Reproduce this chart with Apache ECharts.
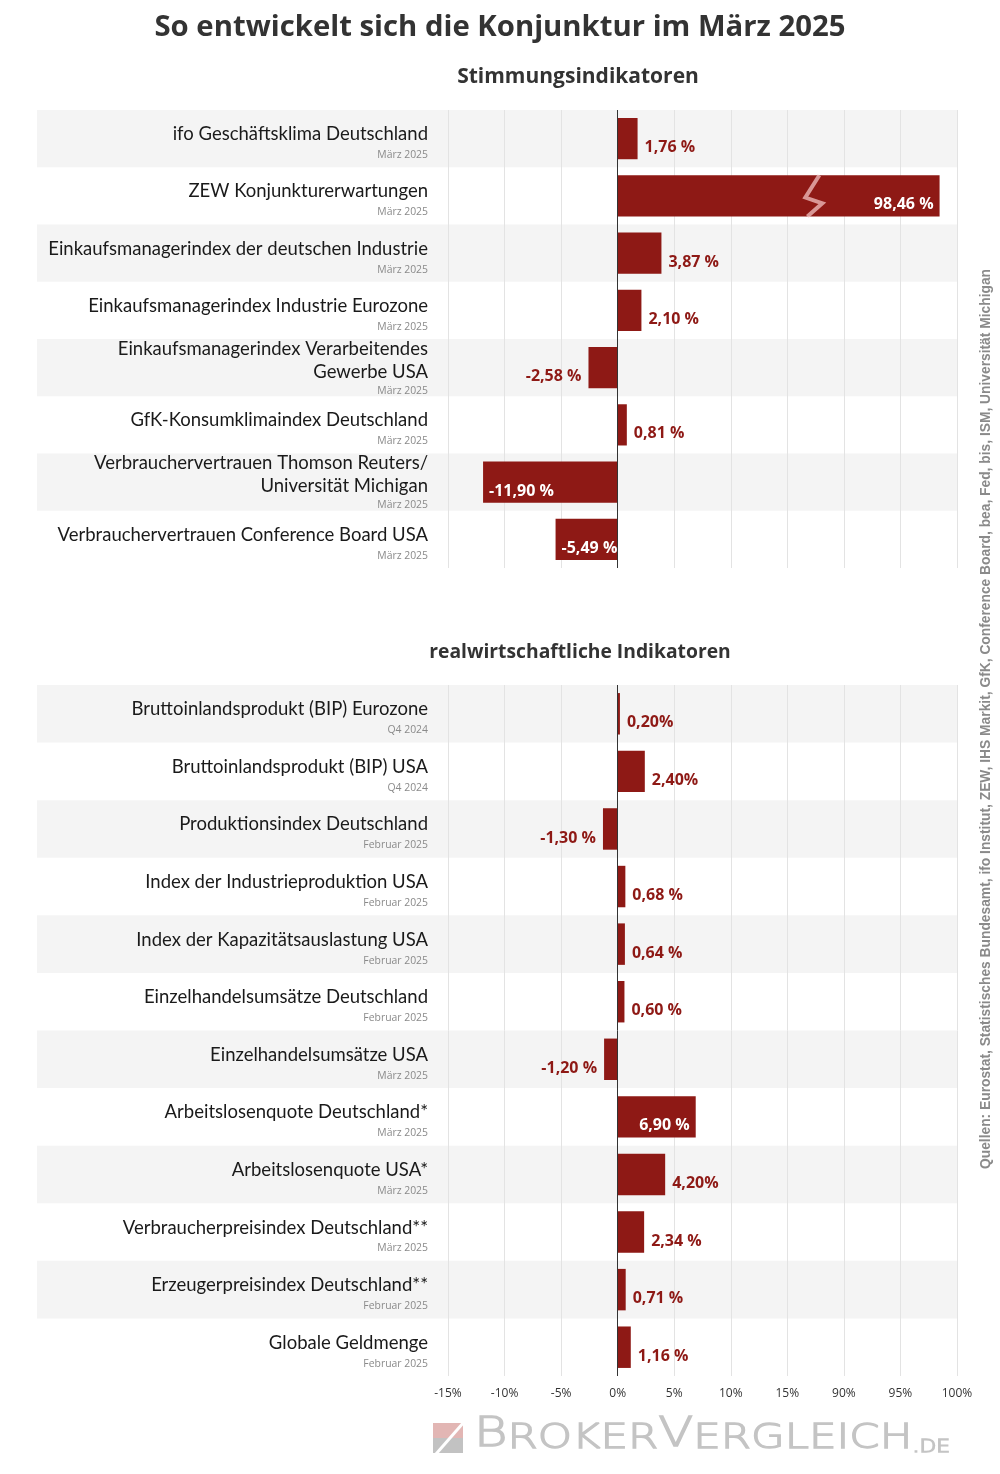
<!DOCTYPE html>
<html><head><meta charset="utf-8">
<script src="https://cdn.jsdelivr.net/npm/echarts@6/dist/echarts.min.js"></script>
<style>html,body{margin:0;padding:0;background:#fff}#c{width:1000px;height:1474px}</style>
</head><body><div id="c"></div>
<script>
// ---------- data ----------
const topCategories = [
  'ifo Geschäftsklima Deutschland',
  'ZEW Konjunkturerwartungen',
  'Einkaufsmanagerindex der deutschen Industrie',
  'Einkaufsmanagerindex Industrie Eurozone',
  'Einkaufsmanagerindex Verarbeitendes\nGewerbe USA',
  'GfK-Konsumklimaindex Deutschland',
  'Verbrauchervertrauen Thomson Reuters/\nUniversität Michigan',
  'Verbrauchervertrauen Conference Board USA'
];
const topDates = ['März 2025','März 2025','März 2025','März 2025','März 2025','März 2025','März 2025','März 2025'];
const topValues = [1.76, 98.46, 3.87, 2.10, -2.58, 0.81, -11.90, -5.49];
const topLabels = ['1,76 %','98,46 %','3,87 %','2,10 %','-2,58 %','0,81 %','-11,90 %','-5,49 %'];

const bottomCategories = [
  'Bruttoinlandsprodukt (BIP) Eurozone',
  'Bruttoinlandsprodukt (BIP) USA',
  'Produktionsindex Deutschland',
  'Index der Industrieproduktion USA',
  'Index der Kapazitätsauslastung USA',
  'Einzelhandelsumsätze Deutschland',
  'Einzelhandelsumsätze USA',
  'Arbeitslosenquote Deutschland*',
  'Arbeitslosenquote USA*',
  'Verbraucherpreisindex Deutschland**',
  'Erzeugerpreisindex Deutschland**',
  'Globale Geldmenge'
];
const bottomDates = ['Q4 2024','Q4 2024','Februar 2025','Februar 2025','Februar 2025','Februar 2025','März 2025','März 2025','März 2025','März 2025','Februar 2025','Februar 2025'];
const bottomValues = [0.20, 2.40, -1.30, 0.68, 0.64, 0.60, -1.20, 6.90, 4.20, 2.34, 0.71, 1.16];
const bottomLabels = ['0,20%','2,40%','-1,30 %','0,68 %','0,64 %','0,60 %','-1,20 %','6,90 %','4,20%','2,34 %','0,71 %','1,16 %'];

// axis: -15 ... 15 | break | 90 ... 100
const axisTicks = [-15, -10, -5, 0, 5, 10, 15, 90, 95, 100];
const breakStart = 15, breakEnd = 90, breakGap = 5;
const sourceText = 'Quellen: Eurostat, Statistisches Bundesamt, ifo Institut, ZEW, IHS Markit, GfK, Conference Board, bea, Fed, bis, ISM, Universität Michigan';

// ---------- helpers ----------
const BAR = '#8e1915';
const toAxis = v => v > breakStart ? v - (breakEnd - breakStart - breakGap) : v;
const fromAxis = p => p > breakStart ? p + (breakEnd - breakStart - breakGap) : p;
const axisMin = toAxis(axisTicks[0]);
const axisMax = toAxis(axisTicks[axisTicks.length - 1]);
const breakPos = breakStart + 2.3;

function catFormatter(dates) {
  return function (value, idx) {
    const lines = value.split('\n');
    if (lines.length === 1) return '{n1|' + lines[0] + '}\n{d1|' + dates[idx] + '}';
    return lines.map(l => '{n|' + l + '}').join('\n') + '\n{d|' + dates[idx] + '}';
  };
}
const richCat = {
  n1: { fontFamily: 'Lato', fontSize: 18.5, lineHeight: 33, color: '#1a1a1a', align: 'right' },
  n: { fontFamily: 'Lato', fontSize: 18.5, lineHeight: 23, color: '#1a1a1a', align: 'right' },
  d1: { fontFamily: 'Open Sans', fontSize: 10.4, lineHeight: 9, color: '#8a8a8a', align: 'right' },
  d: { fontFamily: 'Open Sans', fontSize: 10.4, lineHeight: 15, color: '#8a8a8a', align: 'right' }
};

function barData(values, labels) {
  return values.map((v, i) => {
    const p = toAxis(v);
    const inside = Math.abs(p) >= 5;
    return {
      value: p,
      label: {
        show: true,
        position: inside ? (p > 0 ? 'insideRight' : 'insideLeft') : (p >= 0 ? 'right' : 'left'),
        distance: inside ? 6 : 7,
        offset: [0, 9],
        color: inside ? '#fff' : BAR,
        fontFamily: 'Open Sans', fontWeight: 'bold', fontSize: 16,
        formatter: () => labels[i]
      }
    };
  });
}

function bandSeries(n, gi) {
  return {
    type: 'custom', xAxisIndex: gi, yAxisIndex: gi, z: -1, silent: true,
    data: Array.from({ length: n }, (_, i) => [0, i]),
    renderItem: (params, api) => {
      const i = api.value(1);
      if (i % 2 === 1) return null;
      const c = api.coord([0, i]);
      const h = api.size([0, 1])[1];
      return { type: 'rect', shape: { x: 37, y: c[1] - h / 2, width: 920, height: h }, style: { fill: '#f4f4f4' } };
    }
  };
}

function zigzagSeries(values, gi) {
  const d = [];
  values.forEach((v, i) => { if (v > breakStart) d.push([breakPos, i]); });
  return {
    type: 'custom', xAxisIndex: gi, yAxisIndex: gi, z: 5, silent: true, data: d,
    renderItem: (params, api) => {
      const c = api.coord([api.value(0), api.value(1)]);
      const bh = api.size([0, 1])[1] * 0.72;
      const t = c[1] - bh / 2;
      return {
        type: 'polyline',
        shape: { points: [[c[0] + 6, t], [c[0] - 8, t + bh * 0.54], [c[0] + 9, t + bh * 0.68], [c[0] - 6, t + bh]] },
        style: { stroke: 'rgba(250,205,205,0.7)', lineWidth: 4, fill: null }
      };
    }
  };
}

function xAxisCfg(gi, showLabels) {
  return {
    type: 'value', gridIndex: gi, min: axisMin, max: axisMax, interval: 5,
    axisLine: { show: false }, axisTick: { show: false },
    splitLine: { show: true, lineStyle: { color: '#e3e3e3', width: 1 } },
    axisLabel: {
      show: showLabels, margin: 12, color: '#333', fontFamily: 'Open Sans', fontSize: 12,
      formatter: v => fromAxis(v) + '%'
    }
  };
}
function yAxisCfg(gi, cats, dates) {
  return {
    type: 'category', gridIndex: gi, data: cats, inverse: true,
    axisLine: { show: false }, axisTick: { show: false }, splitLine: { show: false },
    axisLabel: { margin: 20, formatter: catFormatter(dates), rich: richCat }
  };
}
function barSeries(values, labels, gi) {
  return {
    type: 'bar', xAxisIndex: gi, yAxisIndex: gi, barWidth: '72%', z: 2,
    itemStyle: { color: BAR },
    data: barData(values, labels),
    markLine: {
      silent: true, symbol: 'none', label: { show: false },
      lineStyle: { color: '#333', type: 'solid', width: 1 },
      data: [{ xAxis: 0 }]
    }
  };
}

const LOGO = '#c4c4c4';
const logoTok = size => ({ fontFamily: 'DejaVu Sans', fontWeight: 200, fontSize: size, fill: LOGO, color: LOGO, stroke: LOGO, lineWidth: 1.3, verticalAlign: 'bottom' });
const chart = echarts.init(document.getElementById('c'));
chart.setOption({
  animation: false,
  backgroundColor: '#fff',
  grid: [
    { left: 448, right: 43, top: 110, height: 458 },
    { left: 448, right: 43, top: 685, height: 691 }
  ],
  xAxis: [xAxisCfg(0, false), xAxisCfg(1, true)],
  yAxis: [yAxisCfg(0, topCategories, topDates), yAxisCfg(1, bottomCategories, bottomDates)],
  series: [
    bandSeries(topCategories.length, 0),
    bandSeries(bottomCategories.length, 1),
    barSeries(topValues, topLabels, 0),
    barSeries(bottomValues, bottomLabels, 1),
    zigzagSeries(topValues, 0)
  ],
  graphic: [
    { type: 'text', x: 500, y: 28, style: { text: 'So entwickelt sich die Konjunktur im März 2025', font: 'bold 29.3px "Open Sans"', fill: '#333', align: 'center', verticalAlign: 'middle' } },
    { type: 'text', x: 578, y: 77, style: { text: 'Stimmungsindikatoren', font: 'bold 21px "Open Sans"', fill: '#333', align: 'center', verticalAlign: 'middle' } },
    { type: 'text', x: 580, y: 653, style: { text: 'realwirtschaftliche Indikatoren', font: 'bold 19.3px "Open Sans"', fill: '#333', align: 'center', verticalAlign: 'middle' } },
    { type: 'text', x: 986, y: 719, rotation: Math.PI / 2, style: { text: sourceText, font: 'bold 13.8px "Liberation Sans"', fill: '#8a8a8a', align: 'center', verticalAlign: 'middle' } },
    // logo
    { type: 'rect', shape: { x: 433, y: 1423, width: 30, height: 15 }, style: { fill: '#e2b6b4' } },
    { type: 'rect', shape: { x: 433, y: 1438, width: 30, height: 15 }, style: { fill: '#c2c2c2' } },
    { type: 'line', shape: { x1: 436, y1: 1454, x2: 464, y2: 1422 }, style: { stroke: '#fff', lineWidth: 3 } },
    { type: 'text', x: 474, y: 1456, scaleX: 1.28, style: {
        text: '{b|B}{s|ROKER}{b|V}{s|ERGLEICH}{d|.DE}', align: 'left', verticalAlign: 'bottom', fill: LOGO,
        rich: { b: logoTok(40), s: logoTok(34), d: logoTok(17) } } }
  ]
});
</script></body></html>
